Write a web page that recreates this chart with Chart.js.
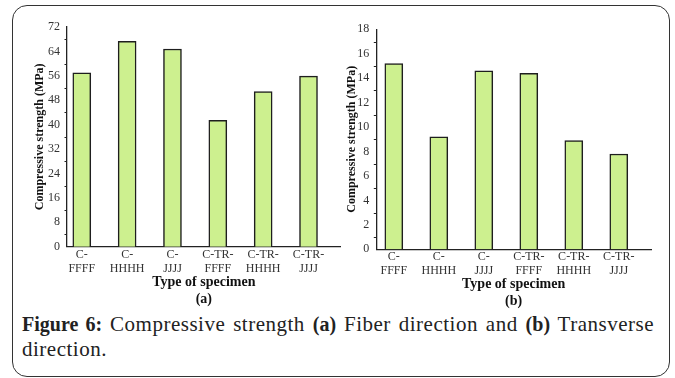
<!DOCTYPE html>
<html>
<head>
<meta charset="utf-8">
<script src="https://cdn.jsdelivr.net/npm/chart.js@4"></script>
<style>
  html, body { margin: 0; padding: 0; background: #fff; }
  #wrap { position: relative; width: 675px; height: 378px; overflow: hidden; }
  #frame { position: absolute; left: 12px; top: 5px; width: 658px; height: 372px; box-sizing: border-box;
           border: 1.5px solid #333; border-radius: 15px; }
  #chartA { position: absolute; left: 0; top: 0; }
  #chartB { position: absolute; left: 340px; top: 0; }
  #caption { position: absolute; left: 22px; top: 312px; width: 632px; font-family: "Liberation Serif", serif;
             font-size: 21px; line-height: 25px; letter-spacing: 0.5px; color: #222; text-align: justify; }
  #caption b { font-size: 20px; letter-spacing: 0; }
</style>
</head>
<body>
<div id="wrap">
  <div id="frame"></div>
  <canvas id="chartA" width="345" height="310"></canvas>
  <canvas id="chartB" width="335" height="312"></canvas>
  <div id="caption"><b>Figure 6:</b> Compressive strength <b>(a)</b> Fiber direction and <b>(b)</b> Transverse direction.</div>
</div>
<script>
const categories = ['C-FFFF', 'C-HHHH', 'C-JJJJ', 'C-TR-FFFF', 'C-TR-HHHH', 'C-TR-JJJJ'];
const tickLabels = [['C-', 'FFFF'], ['C-', 'HHHH'], ['C-', 'JJJJ'], ['C-TR-', 'FFFF'], ['C-TR-', 'HHHH'], ['C-TR-', 'JJJJ']];
const fiberValues = [57.0, 67.3, 64.8, 41.4, 50.8, 55.9];
const transverseValues = [15.2, 9.2, 14.6, 14.4, 8.9, 7.8];
const fiberTicks = [0, 8, 16, 24, 32, 40, 48, 56, 64, 72];
const transverseTicks = [0, 2, 4, 6, 8, 10, 12, 14, 16, 18];

const serif = '"Liberation Serif", "DejaVu Serif", serif';

// little minor ticks half way between the major ones
const minorTicks = {
  id: 'minorTicks',
  afterDraw(chart, args, opts) {
    const y = chart.scales.y;
    const ctx = chart.ctx;
    ctx.save();
    ctx.strokeStyle = '#222';
    ctx.lineWidth = 1;
    for (let i = 0; i < opts.ticks.length - 1; i++) {
      const v = (opts.ticks[i] + opts.ticks[i + 1]) / 2;
      const py = Math.round(y.getPixelForValue(v)) + 0.5;
      ctx.beginPath();
      ctx.moveTo(y.right - 2.5, py);
      ctx.lineTo(y.right, py);
      ctx.stroke();
    }
    ctx.restore();
  }
};

function makeChart(id, values, yTicks, panel, lay) {
  const ctx = document.getElementById(id).getContext('2d');
  return new Chart(ctx, {
    type: 'bar',
    data: {
      datasets: [{
        label: 'Compressive strength',
        data: values.map((v, i) => ({ x: i, y: v })),
        backgroundColor: '#cdf08f',
        borderColor: '#1e1e1e',
        borderWidth: 1.5,
        barThickness: 18
      }]
    },
    options: {
      responsive: false,
      animation: false,
      layout: { padding: { left: lay.padLeft, right: lay.padRight, top: lay.top, bottom: lay.padBottom } },
      plugins: { legend: { display: false }, tooltip: { enabled: false }, minorTicks: { ticks: yTicks } },
      scales: {
        x: {
          type: 'linear',
          offset: false,
          min: lay.xMin,
          max: lay.xMax,
          afterBuildTicks: s => { s.ticks = categories.map((c, i) => ({ value: i })); },
          afterFit: s => { s.height = lay.canvasH - lay.padBottom - lay.bottom; },
          grid: { display: false, drawTicks: false },
          border: { display: true, color: '#222', width: 1.3 },
          ticks: {
            autoSkip: false, maxRotation: 0, padding: 1, color: '#333',
            font: { family: serif, size: 12, lineHeight: 1.15 },
            callback: v => tickLabels[v]
          },
          title: {
            display: true, text: ['Type of specimen', panel], color: '#111',
            padding: 0, font: { family: serif, size: 14, weight: 'bold', lineHeight: 1.2 }
          }
        },
        y: {
          min: 0,
          max: yTicks[yTicks.length - 1],
          afterBuildTicks: s => { s.ticks = yTicks.map(v => ({ value: v })); },
          afterFit: s => { s.width = lay.axisX - lay.padLeft; },
          grid: { display: false, drawTicks: true, tickLength: 4, tickColor: '#222' },
          border: { display: true, color: '#222', width: 1.3 },
          ticks: { padding: 3, color: '#333', font: { family: serif, size: 12 } },
          title: {
            display: true, text: 'Compressive strength (MPa)', color: '#111',
            padding: 0, font: { family: serif, size: 12, weight: 'bold', lineHeight: 1.2 }
          }
        }
      }
    },
    plugins: [minorTicks]
  });
}

makeChart('chartA', fiberValues, fiberTicks, '(a)', {
  padLeft: 33, axisX: 67, padRight: 4.3, top: 27, bottom: 246.7, padBottom: 2, canvasH: 310,
  xMin: -0.326, xMax: 5.71
});
makeChart('chartB', transverseValues, transverseTicks, '(b)', {
  padLeft: 5, axisX: 36.3, padRight: 24, top: 29.3, bottom: 249.3, padBottom: 2, canvasH: 312,
  xMin: -0.389, xMax: 5.716
});
</script>
</body>
</html>
